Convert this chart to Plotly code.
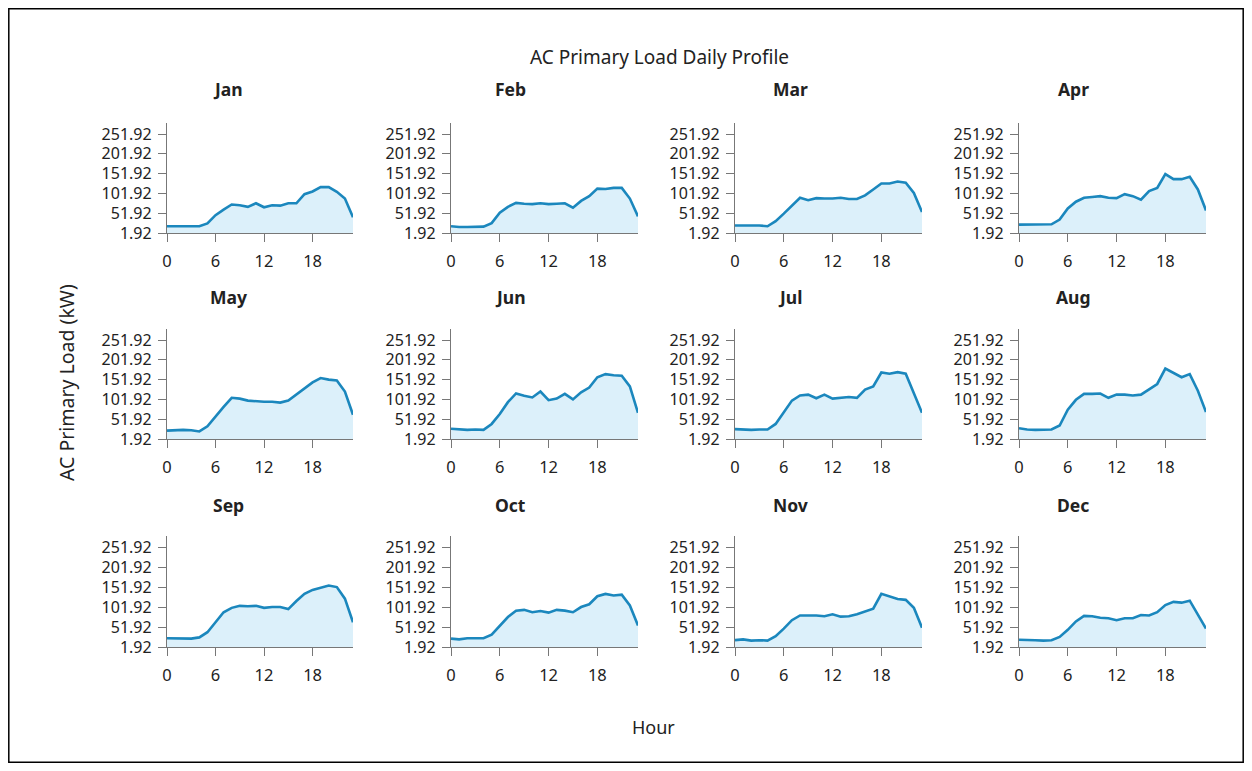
import plotly.graph_objects as go

# page body has an 8px margin: figure coordinates = screen coordinates - 8
OFF = 8
W, H = 1252 - 2 * OFF, 771 - 2 * OFF

hours = list(range(24))
months = ["Jan", "Feb", "Mar", "Apr", "May", "Jun", "Jul", "Aug", "Sep", "Oct", "Nov", "Dec"]

jan = [19, 19, 19, 19, 19, 26, 47, 61, 74, 72, 68, 77, 67, 72, 71, 77, 77, 100, 107, 118, 118, 106, 89, 42]
feb = [19, 17, 17, 17, 18, 27, 53, 68, 78, 76, 75, 77, 75, 76, 77, 66, 83, 95, 114, 113, 116, 116, 89, 44]
mar = [21, 21, 21, 21, 19, 32, 51, 72, 91, 85, 90, 89, 89, 91, 88, 88, 97, 112, 127, 127, 132, 129, 103, 55]
apr = [23, 23, 23, 23, 24, 36, 64, 81, 91, 93, 95, 91, 90, 100, 95, 86, 108, 116, 151, 138, 138, 144, 112, 59]
may = [23, 24, 25, 24, 21, 34, 59, 83, 106, 104, 99, 97, 96, 96, 94, 99, 114, 129, 145, 156, 152, 150, 122, 63]
jun = [28, 27, 25, 26, 25, 40, 65, 95, 117, 111, 107, 122, 100, 104, 116, 102, 120, 132, 158, 166, 163, 162, 135, 68]
jul = [27, 26, 25, 26, 26, 40, 68, 99, 112, 114, 105, 114, 104, 106, 108, 106, 127, 135, 170, 167, 171, 167, 118, 68]
aug = [29, 26, 25, 26, 26, 36, 76, 101, 116, 116, 117, 106, 114, 114, 112, 114, 127, 141, 180, 169, 158, 166, 124, 70]
sep = [24, 24, 24, 23, 26, 39, 64, 89, 100, 105, 104, 105, 100, 102, 102, 97, 117, 135, 145, 150, 156, 152, 123, 64]
oct_ = [23, 21, 24, 24, 24, 33, 55, 77, 93, 95, 89, 92, 88, 95, 93, 89, 102, 109, 129, 135, 131, 133, 106, 56]
nov = [19, 21, 18, 19, 18, 29, 48, 69, 81, 81, 81, 79, 84, 78, 79, 84, 91, 98, 135, 129, 122, 120, 100, 50]
dec = [20, 20, 19, 18, 19, 27, 45, 66, 80, 79, 75, 74, 69, 74, 74, 82, 81, 89, 107, 115, 113, 118, 84, 48]

series = [jan, feb, mar, apr, may, jun, jul, aug, sep, oct_, nov, dec]

y_ticks = [1.92, 51.92, 101.92, 151.92, 201.92, 251.92]
y_tick_text = ["1.92", "51.92", "101.92", "151.92", "201.92", "251.92"]
x_ticks = [0, 6, 12, 18]

# layout geometry (screen pixels)
col_x = [(167, 353), (451, 638), (735, 922), (1019, 1206)]
row_y = [(123, 233), (329, 439), (536, 647)]
title_x = [228, 510, 790, 1073]
title_y = [89, 297, 505]

FONT = "Noto Sans"
TXT = "#222222"
LINE = "#1b87bd"
FILL = "#dcf0fa"
AX = "#777777"


def px(x):
    return (x - OFF) / W


def py(y):
    return 1 - (y - OFF) / H


fig = go.Figure()
annotations = []

for i, (m, vals) in enumerate(zip(months, series)):
    r, c = divmod(i, 4)
    n = i + 1
    xa = "x" if n == 1 else f"x{n}"
    ya = "y" if n == 1 else f"y{n}"
    fig.add_trace(go.Scatter(
        x=hours, y=vals, mode="lines", fill="tozeroy",
        line=dict(color=LINE, width=2.6), fillcolor=FILL,
        xaxis=xa, yaxis=ya, showlegend=False, hoverinfo="x+y"))
    x0, x1 = col_x[c]
    y0, y1 = row_y[r]
    xkey = "xaxis" if n == 1 else f"xaxis{n}"
    ykey = "yaxis" if n == 1 else f"yaxis{n}"
    fig.layout[xkey] = dict(
        domain=[px(x0), px(x1)], anchor=ya, range=[0, 23],
        tickvals=x_ticks, ticks="outside", ticklen=8, tickcolor=AX,
        showline=True, linecolor=AX, linewidth=1.3, showgrid=False, zeroline=False,
        tickfont=dict(family=FONT, size=16.5, color=TXT), ticklabelstandoff=5)
    fig.layout[ykey] = dict(
        domain=[py(y1), py(y0)], anchor=xa, range=[1.92, 280],
        tickvals=y_ticks, ticktext=y_tick_text, ticks="outside", ticklen=8, tickcolor=AX,
        showline=True, linecolor=AX, linewidth=1.3, showgrid=False, zeroline=False,
        tickfont=dict(family=FONT, size=16, color=TXT), ticklabelstandoff=3)
    annotations.append(dict(
        text=f"<b>{m}</b>", x=px(title_x[c]), y=py(title_y[r]),
        xref="paper", yref="paper", showarrow=False,
        font=dict(family=FONT, size=17.5, color=TXT), xanchor="center", yanchor="middle"))

annotations += [
    dict(text="AC Primary Load Daily Profile", x=px(660), y=py(57), xref="paper", yref="paper",
         showarrow=False, font=dict(family=FONT, size=19, color=TXT), xanchor="center", yanchor="middle"),
    dict(text="Hour", x=px(653), y=py(727), xref="paper", yref="paper",
         showarrow=False, font=dict(family=FONT, size=18, color=TXT), xanchor="center", yanchor="middle"),
    dict(text="AC Primary Load (kW)", x=px(66), y=py(383), xref="paper", yref="paper",
         showarrow=False, textangle=-90, font=dict(family=FONT, size=19.5, color=TXT),
         xanchor="center", yanchor="middle"),
]

fig.update_layout(
    width=W, height=H, margin=dict(l=0, r=0, t=0, b=0, autoexpand=False),
    paper_bgcolor="white", plot_bgcolor="white",
    annotations=annotations,
    shapes=[dict(type="rect", xref="paper", yref="paper",
                 x0=0.8 / W, x1=1 - 0.8 / W, y0=0.8 / H, y1=1 - 0.8 / H,
                 line=dict(color="black", width=1.5), fillcolor="rgba(0,0,0,0)")],
)

fig.write_html("out.html")
